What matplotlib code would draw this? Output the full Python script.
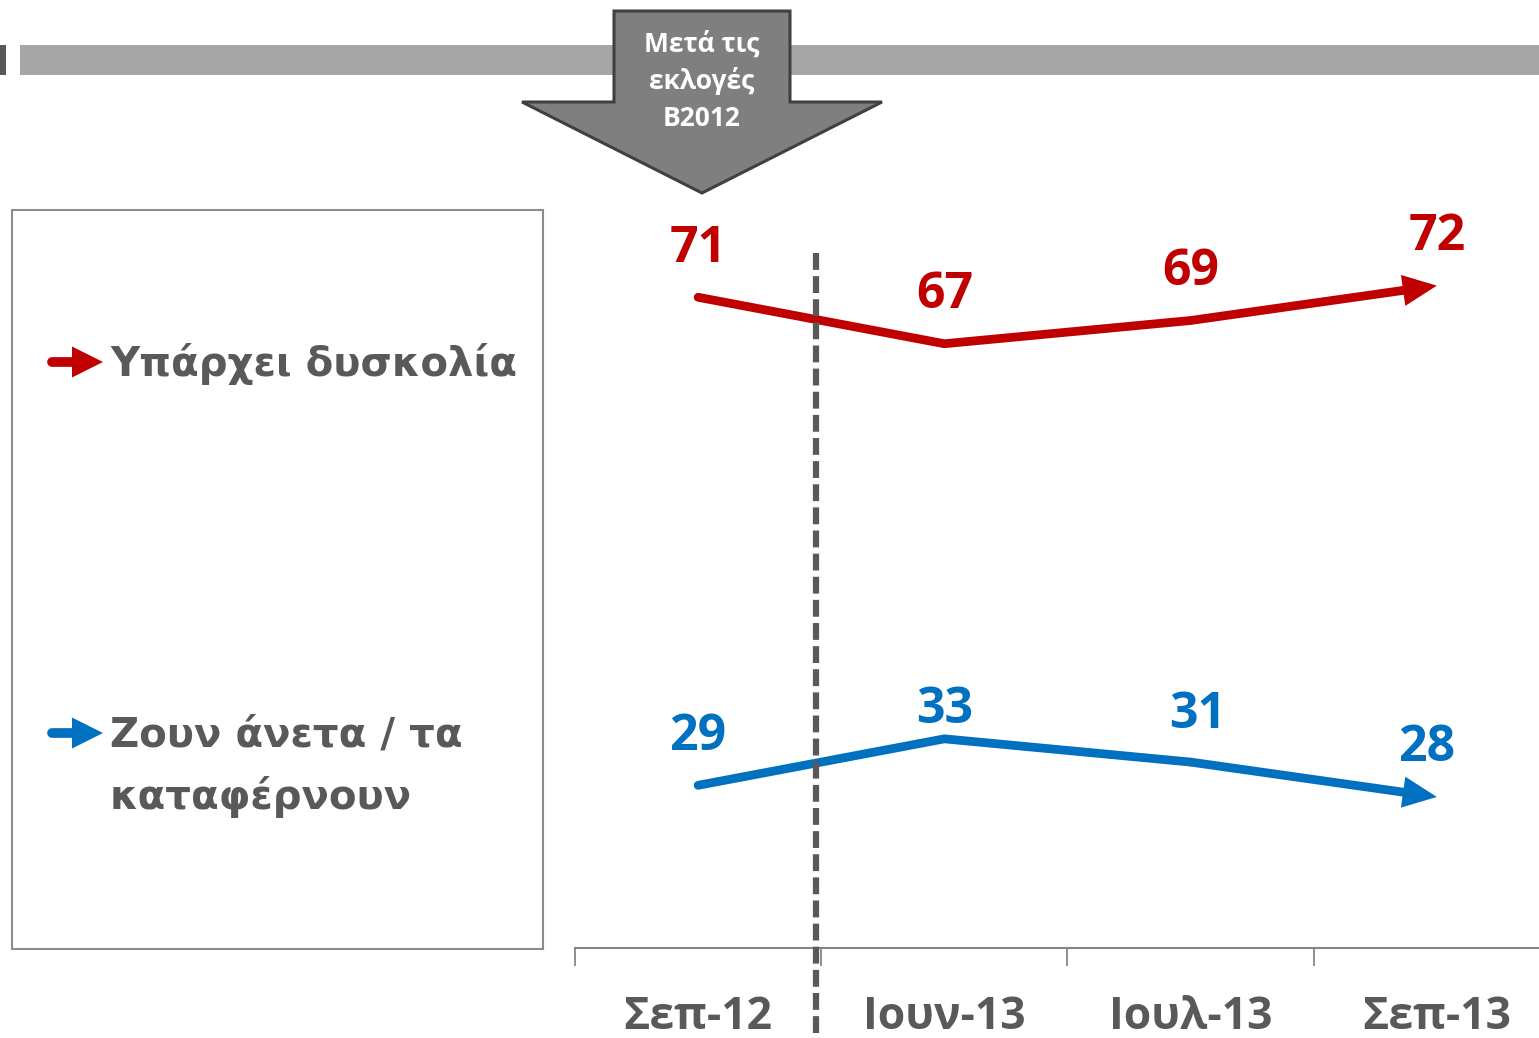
import matplotlib
matplotlib.use("Agg")
import matplotlib.pyplot as plt
from matplotlib.patches import Rectangle, Polygon, FancyArrowPatch
from matplotlib.lines import Line2D

categories = ["Σεπ-12", "Ιουν-13", "Ιουλ-13", "Σεπ-13"]
difficulty = [71, 67, 69, 72]
comfortable = [29, 33, 31, 28]
series_names = ["Υπάρχει δυσκολία", "Ζουν άνετα / τα\nκαταφέρνουν"]
banner_text = "Μετά τις\nεκλογές\nΒ2012"

RED = "#C00000"
BLUE = "#0070C0"
GRAY_TXT = "#595959"
NUMFONT = ["Open Sans", "DejaVu Sans"]

W, H = 1539, 1038
fig = plt.figure(figsize=(W / 100, H / 100), dpi=100)
fig.patch.set_facecolor("white")


def P(x, y):
    return (x / W, 1 - y / H)


# top banner
fig.patches.append(Rectangle(P(20, 75), 1519 / W, 30 / H, transform=fig.transFigure,
                             facecolor="#A6A6A6", edgecolor="none", zorder=1))
fig.patches.append(Rectangle(P(0, 75), 6 / W, 30 / H, transform=fig.transFigure,
                             facecolor="#595959", edgecolor="none", zorder=1))
arrow_pts = [P(614, 11), P(790, 11), P(790, 102), P(882, 102), P(702, 193),
             P(522, 102), P(614, 102)]
fig.patches.append(Polygon(arrow_pts, closed=True, transform=fig.transFigure,
                           facecolor="#7F7F7F", edgecolor="#404040", lw=2.2, zorder=2))
fig.text(*P(702, 81), banner_text, ha="center", va="center", color="white",
         fontsize=19, fontweight="bold", family=NUMFONT, linespacing=1.45, zorder=3)

# legend box
fig.patches.append(Rectangle(P(12, 949), 531 / W, 739 / H, transform=fig.transFigure,
                             facecolor="none", edgecolor="#8C8C8C", lw=1.5, zorder=1))
legend_rows = [(362, 364, RED, series_names[0]), (733, 767, BLUE, series_names[1])]
for (y, ty, col, name) in legend_rows:
    fig.lines.append(Line2D([52 / W, 76 / W], [1 - y / H, 1 - y / H], transform=fig.transFigure,
                            color=col, lw=7, solid_capstyle="round"))
    fig.patches.append(Polygon([P(72, y - 15.5), P(103, y), P(72, y + 15.5)], closed=True,
                               transform=fig.transFigure, facecolor=col, edgecolor="none"))
    fig.text(110 / W, 1 - ty / H, name, ha="left", va="center",
             color=GRAY_TXT, fontsize=29, fontweight="bold", family=["DejaVu Sans"],
             linespacing=1.62)

# main axes
ax = fig.add_axes([575 / W, (H - 948) / H, (W - 575) / W, (948 - 200) / H])
ax.set_xlim(-0.5, 3.415)
ax.set_ylim(15.0, 79.37)
for s in ["left", "top", "right"]:
    ax.spines[s].set_visible(False)
ax.spines["bottom"].set_color("#868686")
ax.spines["bottom"].set_linewidth(1.5)
ax.set_yticks([])
ax.set_xticks([-0.5, 0.5, 1.5, 2.5], minor=False)
ax.set_xticklabels([])
ax.tick_params(axis="x", which="major", direction="out", length=13, width=1.3, color="#868686")
ax.set_xticks(range(len(categories)), minor=True)
ax.set_xticklabels(categories, minor=True)
ax.tick_params(axis="x", which="minor", length=0, pad=34, labelsize=32, labelcolor=GRAY_TXT)
for t in ax.get_xticklabels(minor=True):
    t.set_fontweight("bold")
    t.set_family(NUMFONT)

xs = list(range(len(categories)))
label_offsets = {
    "red": [35, 35, 35, 35],
    "blue": [35, 21, 34, 35],
}
label_dx = {"red": [0, 0, 0, 0], "blue": [0, 0, 5, -7]}
for vals, col, key in [(difficulty, RED, "red"), (comfortable, BLUE, "blue")]:
    ax.plot(xs[:-1], vals[:-1], color=col, lw=6.3, solid_capstyle="round",
            solid_joinstyle="round", zorder=3)
    arr = FancyArrowPatch((xs[-2], vals[-2]), (xs[-1], vals[-1]),
                          arrowstyle="simple,head_length=2.45,head_width=2.25,tail_width=0.63",
                          mutation_scale=10, facecolor=col, edgecolor="none", lw=0,
                          shrinkA=0, shrinkB=0, zorder=3)
    ax.add_patch(arr)
    for i, v in enumerate(vals):
        ax.annotate(str(v), (xs[i], v), xytext=(label_dx[key][i], label_offsets[key][i]),
                    textcoords="offset points", ha="center", va="center", color=col,
                    fontsize=36, fontweight="bold", family=NUMFONT, zorder=4)

# dashed separator
fig.lines.append(Line2D([816 / W, 816 / W], [1 - 253 / H, 0], transform=fig.transFigure,
                        color="#595959", lw=4.5, linestyle=(0, (2.7, 1.0)),
                        dash_capstyle="butt", zorder=5))

fig.savefig("out.png", dpi=100, facecolor="white")
